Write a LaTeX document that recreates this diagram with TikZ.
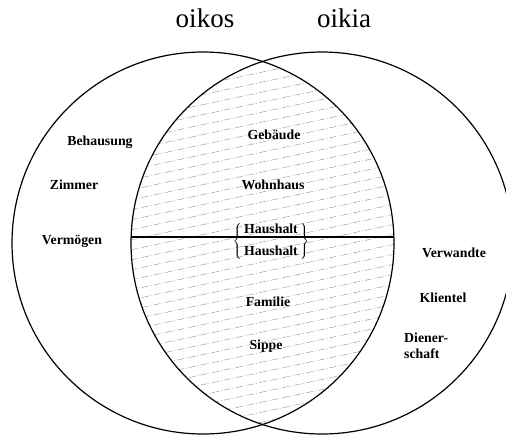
\documentclass[tikz,border=0pt]{standalone}
\usepackage{fontspec}
\setmainfont{Liberation Serif}

\begin{document}
\begin{tikzpicture}[x=1pt,y=-1pt,
  ring/.style={line width=1.2pt},
  hatch/.style={black!50,line width=0.35pt,dash pattern=on 7pt off 2pt on 1pt off 2pt},
  title/.style={font=\fontsize{27}{32}\selectfont,anchor=base},
  word/.style={font=\fontsize{13.8}{16}\selectfont\bfseries,anchor=base,inner sep=0pt}]
\useasboundingbox (0,0) rectangle (506,436);

\coordinate (oikoscentre) at (203,243);
\coordinate (oikiacentre) at (322,243);

% the shared part: hatching and the dividing line
\begin{scope}
  \clip (oikoscentre) circle[radius=191pt];
  \clip (oikiacentre) circle[radius=191pt];
  \foreach \y in {60,70,...,490}
    \draw[hatch] (130,\y) -- (400,\y-57);
  \coordinate (lineleft) at (100,237);
  \coordinate (lineright) at (420,237);
  \draw[ring] (lineleft) -- (lineright);
\end{scope}

\draw[ring] (oikoscentre) circle[radius=191pt];
\draw[ring] (oikiacentre) circle[radius=191pt];

\node[title] (oikos) at (205,28) {oikos};
\node[title] (oikia) at (344,28) {oikia};

% oikos only
\node[word] (behausung) at (100,145) {Behausung};
\node[word] (zimmer) at (74,189) {Zimmer};
\node[word] (vermoegen) at (72,244) {Vermögen};

% both
\node[word] (gebaeude) at (274,139) {Gebäude};
\node[word] (wohnhaus) at (273,189) {Wohnhaus};
\node[word,anchor=center] (haushalt) at (271,241)
  {\(\left\{\,\begin{tabular}{@{}c@{}}Haushalt\\[6pt]Haushalt\end{tabular}\,\right\}\)};
\node[word] (familie) at (268,306) {Familie};
\node[word] (sippe) at (266,349) {Sippe};

% oikia only
\node[word] (verwandte) at (454,257) {Verwandte};
\node[word] (klientel) at (443,302) {Klientel};
\node[word,anchor=north west,align=left] (dienerschaft) at (404,333) {Diener-\\schaft};
\end{tikzpicture}
\end{document}
